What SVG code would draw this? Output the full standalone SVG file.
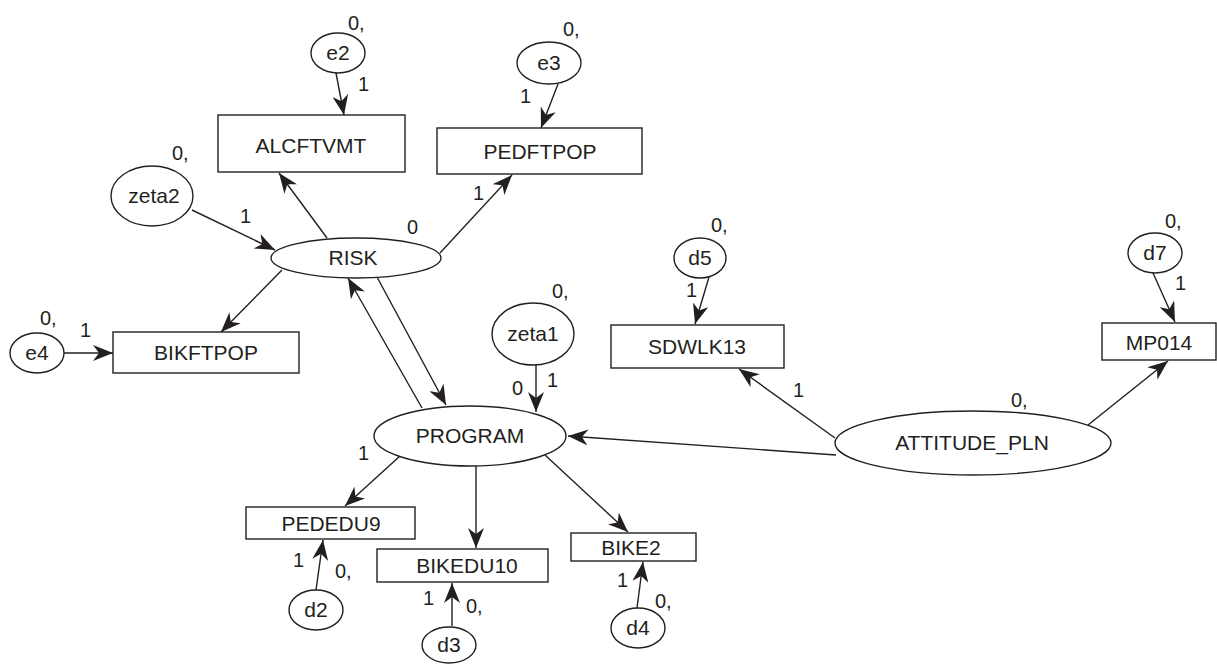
<svg xmlns="http://www.w3.org/2000/svg" width="1217" height="664" viewBox="0 0 1217 664">
<defs>
<marker id="ah" viewBox="0 0 20 16" refX="20" refY="8" markerWidth="20" markerHeight="16" markerUnits="userSpaceOnUse" orient="auto">
<path d="M0,0 L20,8 L0,16 L6,8 z" fill="#231f20"/>
</marker>
<style>
.n{fill:#fff;stroke:#231f20;stroke-width:1.4}
.t{font-family:"Liberation Sans",Arial,sans-serif;font-size:21px;fill:#231f20;text-anchor:middle}
.l{font-family:"Liberation Sans",Arial,sans-serif;font-size:20px;fill:#231f20}
.c line{stroke:#231f20;stroke-width:1.4;marker-end:url(#ah)}
</style>
</defs>
<rect width="1217" height="664" fill="#fff"/>
<g class="c" id="connectors">
<line x1="336" y1="73" x2="344" y2="115"/>
<line x1="558" y1="84" x2="541" y2="128"/>
<line x1="327" y1="238" x2="279" y2="173"/>
<line x1="440" y1="253" x2="512" y2="175"/>
<line x1="192" y1="210" x2="275" y2="250"/>
<line x1="282" y1="270" x2="221" y2="332"/>
<line x1="64" y1="353" x2="113" y2="353"/>
<line x1="422" y1="408" x2="348" y2="278"/>
<line x1="377" y1="277" x2="446" y2="405"/>
<line x1="536" y1="365" x2="536" y2="412"/>
<line x1="836" y1="455" x2="568" y2="436"/>
<line x1="400" y1="456" x2="345" y2="506"/>
<line x1="476" y1="466" x2="476" y2="548"/>
<line x1="545" y1="455" x2="628" y2="532"/>
<line x1="316" y1="590" x2="323" y2="540"/>
<line x1="452" y1="626" x2="452" y2="583"/>
<line x1="637" y1="608" x2="643" y2="562"/>
<line x1="709" y1="277" x2="695" y2="324"/>
<line x1="835" y1="438" x2="739" y2="369"/>
<line x1="1153" y1="273" x2="1175" y2="322"/>
<line x1="1088" y1="425" x2="1168" y2="361"/>
</g>
<g id="ALCFTVMT"><rect class="n" x="218" y="115" width="187" height="57"/><text class="t" x="311" y="153">ALCFTVMT</text></g>
<g id="PEDFTPOP"><rect class="n" x="437" y="128" width="205" height="46"/><text class="t" x="540" y="159">PEDFTPOP</text></g>
<g id="BIKFTPOP"><rect class="n" x="113" y="332" width="186" height="41"/><text class="t" x="206" y="360">BIKFTPOP</text></g>
<g id="SDWLK13"><rect class="n" x="611" y="325" width="173" height="43"/><text class="t" x="697" y="354">SDWLK13</text></g>
<g id="MP014"><rect class="n" x="1102" y="323" width="114" height="37"/><text class="t" x="1159" y="350">MP014</text></g>
<g id="PEDEDU9"><rect class="n" x="246" y="507" width="169" height="32"/><text class="t" x="331" y="531">PEDEDU9</text></g>
<g id="BIKEDU10"><rect class="n" x="377" y="549" width="171" height="33"/><text class="t" x="467" y="573">BIKEDU10</text></g>
<g id="BIKE2"><rect class="n" x="571" y="533" width="125" height="28"/><text class="t" x="631" y="555">BIKE2</text></g>
<g id="e2"><ellipse class="n" cx="338" cy="53" rx="27" ry="20"/><text class="t" x="338" y="60">e2</text></g>
<g id="e3"><ellipse class="n" cx="549" cy="63" rx="32" ry="21"/><text class="t" x="549" y="70">e3</text></g>
<g id="zeta2"><ellipse class="n" cx="152" cy="196" rx="41" ry="30"/><text class="t" x="154" y="203">zeta2</text></g>
<g id="RISK"><ellipse class="n" cx="356" cy="258" rx="85" ry="20"/><text class="t" x="353" y="265">RISK</text></g>
<g id="e4"><ellipse class="n" cx="37" cy="353" rx="27" ry="20"/><text class="t" x="37" y="360">e4</text></g>
<g id="zeta1"><ellipse class="n" cx="533" cy="334" rx="41" ry="31"/><text class="t" x="533" y="341">zeta1</text></g>
<g id="PROGRAM"><ellipse class="n" cx="470" cy="436" rx="96" ry="30"/><text class="t" x="470" y="443">PROGRAM</text></g>
<g id="ATTITUDE_PLN"><ellipse class="n" cx="973" cy="443" rx="138" ry="32"/><text class="t" x="972" y="450">ATTITUDE_PLN</text></g>
<g id="d5"><ellipse class="n" cx="700" cy="258" rx="26" ry="20"/><text class="t" x="700" y="265">d5</text></g>
<g id="d7"><ellipse class="n" cx="1155" cy="253" rx="27" ry="20"/><text class="t" x="1155" y="260">d7</text></g>
<g id="d2"><ellipse class="n" cx="316" cy="610" rx="27" ry="20"/><text class="t" x="316" y="617">d2</text></g>
<g id="d3"><ellipse class="n" cx="449" cy="645" rx="27" ry="18"/><text class="t" x="449" y="652">d3</text></g>
<g id="d4"><ellipse class="n" cx="638" cy="628" rx="27" ry="20"/><text class="t" x="638" y="635">d4</text></g>
<g id="labels">
<text class="l" x="348" y="30">0,</text>
<text class="l" x="358" y="91">1</text>
<text class="l" x="563" y="36">0,</text>
<text class="l" x="520" y="103">1</text>
<text class="l" x="473" y="200">1</text>
<text class="l" x="172" y="160">0,</text>
<text class="l" x="240" y="223">1</text>
<text class="l" x="407" y="234">0</text>
<text class="l" x="40" y="325">0,</text>
<text class="l" x="80" y="337">1</text>
<text class="l" x="552" y="298">0,</text>
<text class="l" x="512" y="395">0</text>
<text class="l" x="547" y="387">1</text>
<text class="l" x="358" y="460">1</text>
<text class="l" x="293" y="567">1</text>
<text class="l" x="335" y="578">0,</text>
<text class="l" x="423" y="605">1</text>
<text class="l" x="466" y="613">0,</text>
<text class="l" x="617" y="587">1</text>
<text class="l" x="655" y="608">0,</text>
<text class="l" x="711" y="232">0,</text>
<text class="l" x="686" y="297">1</text>
<text class="l" x="793" y="397">1</text>
<text class="l" x="1011" y="407">0,</text>
<text class="l" x="1165" y="228">0,</text>
<text class="l" x="1175" y="290">1</text>
</g>
</svg>
